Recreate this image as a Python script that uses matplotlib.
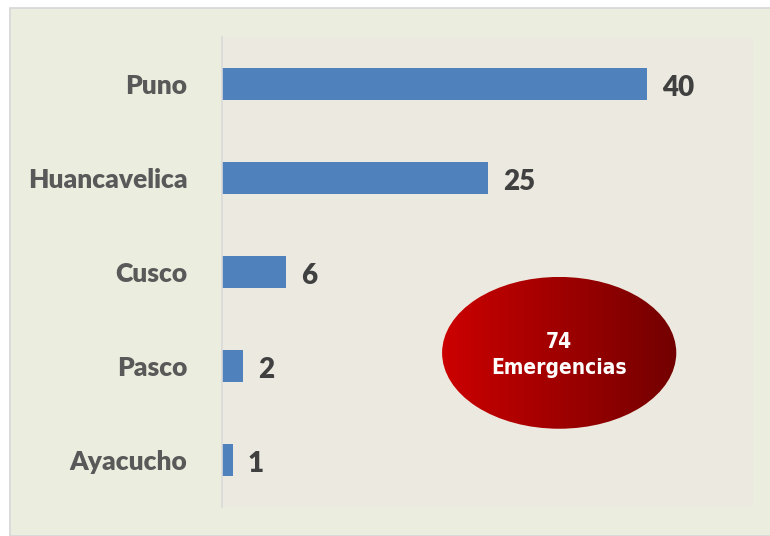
import numpy as np
from matplotlib import pyplot as plt
from matplotlib.patches import Ellipse, Rectangle

regiones = ["Puno", "Huancavelica", "Cusco", "Pasco", "Ayacucho"]
emergencias = [40, 25, 6, 2, 1]
total_txt = "74\nEmergencias"

fig = plt.figure(figsize=(7.7, 5.36), dpi=100)
fig.patch.set_facecolor("white")

# outer panel
panel = Rectangle((10 / 770, 0), 1.0, 1 - 8 / 536, transform=fig.transFigure,
                  facecolor="#EBEEDE", edgecolor="#D6D6D6", linewidth=1.2, zorder=-10)
fig.patches.append(panel)

ax = fig.add_axes([222 / 770, 29 / 536, 531 / 770, 470 / 536])
ax.set_facecolor("#ECEAE0")

y = np.arange(len(regiones))
ax.barh(y, emergencias, height=0.35, color="#4F81BD", zorder=2)

for i, v in enumerate(emergencias):
    ax.annotate(str(v), (v, i), xytext=(11, -3), textcoords="offset points",
                ha="left", va="center", fontsize=20, fontweight="heavy",
                color="#404040", family=["Lato", "DejaVu Sans"])

ax.set_yticks(y)
ax.set_yticklabels(regiones, fontsize=19, fontweight="heavy", color="#595959",
                   family=["Lato", "DejaVu Sans"])
ax.tick_params(axis="y", length=0, pad=25)
ax.set_xticks([])
for s in ["top", "right", "bottom"]:
    ax.spines[s].set_visible(False)
ax.spines["left"].set_color("#D9D9D9")
ax.spines["left"].set_linewidth(1.2)

# ellipse with horizontal red gradient
cx, cy, w, h = 0.635, 0.328, 0.441, 0.323
grad = np.linspace(0, 1, 256).reshape(1, -1)
c0 = np.array([0.80, 0.0, 0.0])
c1 = np.array([0.45, 0.0, 0.0])
img = c0 + (c1 - c0) * grad[..., None]
im = ax.imshow(img, extent=[cx - w / 2, cx + w / 2, cy - h / 2, cy + h / 2],
               transform=ax.transAxes, aspect="auto", zorder=3)
ell = Ellipse((cx, cy), w, h, transform=ax.transAxes, facecolor="none",
              edgecolor="none")
ax.add_patch(ell)
im.set_clip_path(ell)
ax.set_xlim(0, 50)
ax.set_ylim(len(regiones) - 0.5, -0.5)

ax.text(cx, cy - 0.005, total_txt, transform=ax.transAxes, ha="center", va="center",
        fontsize=15, fontweight="bold", fontstretch="condensed", color="white",
        linespacing=1.4, family=["DejaVu Sans"], zorder=4)

fig.savefig("out.png", dpi=100)
